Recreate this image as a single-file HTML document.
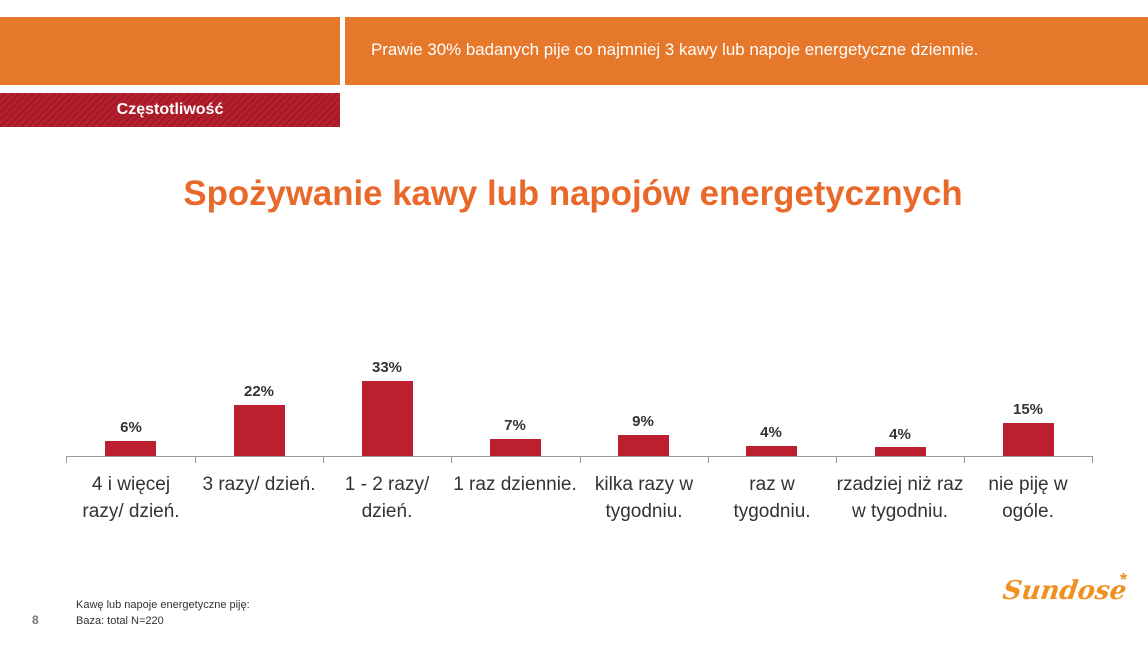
<!DOCTYPE html>
<html><head><meta charset="utf-8"><style>
body{margin:0;width:1148px;height:646px;background:#fff;position:relative;overflow:hidden;font-family:"Liberation Sans",sans-serif}
.a{position:absolute}
.bar{position:absolute;background:#bc2030;width:51px}
.v{position:absolute;width:80px;text-align:center;font-size:15px;font-weight:bold;color:#333}
.c{position:absolute;width:128px;text-align:center;font-size:19px;line-height:27px;color:#333;white-space:nowrap}
.t{position:absolute;top:456px;width:1px;height:7px;background:#999}
</style></head><body>
<div class="a" style="left:0;top:17px;width:340px;height:68px;background:#e5782b"></div>
<div class="a" style="left:345px;top:17px;width:803px;height:68px;background:#e5782b"></div>
<div class="a" style="left:371px;top:40px;color:#fff;font-size:16.9px">Prawie 30% badanych pije co najmniej 3 kawy lub napoje energetyczne dziennie.</div>
<div class="a" style="left:0;top:93px;width:340px;height:34px;background:repeating-linear-gradient(135deg,#b71f2e 0 3px,#9e1a27 3px 5px)"></div>
<div class="a" style="left:0;top:101px;width:340px;text-align:center;color:#fff;font-weight:bold;font-size:16px">Częstotliwość</div>
<div class="a" style="left:0;top:174px;width:1146px;text-align:center;color:#e8692a;font-weight:bold;font-size:34.8px">Spożywanie kawy lub napojów energetycznych</div>
<div class="a" style="left:66px;top:456px;width:1027px;height:1px;background:#999"></div>
<div class="t" style="left:66px"></div><div class="t" style="left:195px"></div><div class="t" style="left:323px"></div><div class="t" style="left:451px"></div><div class="t" style="left:580px"></div><div class="t" style="left:708px"></div><div class="t" style="left:836px"></div><div class="t" style="left:964px"></div><div class="t" style="left:1092px"></div>
<div class="bar" style="left:105px;top:441px;height:15px"></div><div class="v" style="left:91px;top:419px">6%</div>
<div class="bar" style="left:234px;top:405px;height:51px"></div><div class="v" style="left:219px;top:383px">22%</div>
<div class="bar" style="left:362px;top:381px;height:75px"></div><div class="v" style="left:347px;top:359px">33%</div>
<div class="bar" style="left:490px;top:439px;height:17px"></div><div class="v" style="left:475px;top:417px">7%</div>
<div class="bar" style="left:618px;top:435px;height:21px"></div><div class="v" style="left:603px;top:413px">9%</div>
<div class="bar" style="left:746px;top:446px;height:10px"></div><div class="v" style="left:731px;top:424px">4%</div>
<div class="bar" style="left:875px;top:447px;height:9px"></div><div class="v" style="left:860px;top:426px">4%</div>
<div class="bar" style="left:1003px;top:423px;height:33px"></div><div class="v" style="left:988px;top:401px">15%</div>
<div class="c" style="left:67px;top:471px">4 i więcej<br>razy/ dzień.</div>
<div class="c" style="left:195px;top:471px">3 razy/ dzień.</div>
<div class="c" style="left:323px;top:471px">1 - 2 razy/<br>dzień.</div>
<div class="c" style="left:451px;top:471px">1 raz dziennie.</div>
<div class="c" style="left:580px;top:471px">kilka razy w<br>tygodniu.</div>
<div class="c" style="left:708px;top:471px">raz w<br>tygodniu.</div>
<div class="c" style="left:836px;top:471px">rzadziej niż raz<br>w tygodniu.</div>
<div class="c" style="left:964px;top:471px">nie piję w<br>ogóle.</div>
<div class="a" style="left:76px;top:597px;font-size:11px;line-height:16px;color:#333">Kawę lub napoje energetyczne piję:<br>Baza: total N=220</div>
<div class="a" style="left:32px;top:613px;font-size:12px;font-weight:bold;color:#777">8</div>
<div class="a" style="left:1003px;top:576px;font-family:'DejaVu Serif',serif;font-style:italic;font-weight:bold;font-size:26px;color:#f0901e;transform:skewX(-8deg)">Sundose</div>
<div class="a" style="left:1120px;top:570px;font-size:18px;font-weight:bold;color:#f0901e">*</div>
</body></html>
